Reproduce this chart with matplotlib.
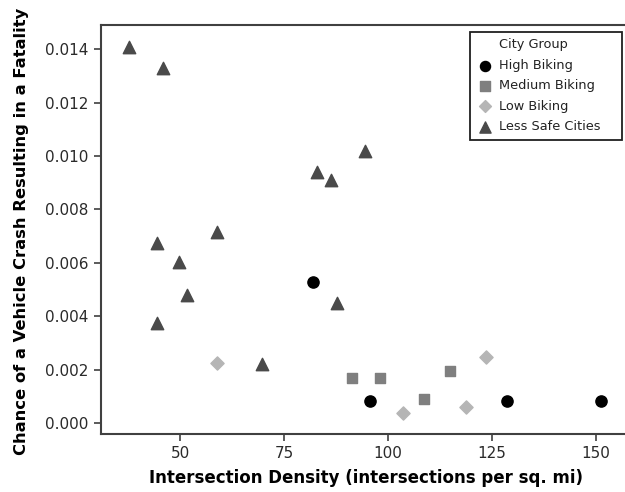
import matplotlib
matplotlib.use("Agg")
import matplotlib.pyplot as plt
from matplotlib.lines import Line2D

# values
high_x = [81.9, 95.7, 128.7, 151.2]
high_y = [0.00528, 0.00084, 0.00084, 0.00084]
medium_x = [91.4, 98.1, 108.6, 114.9]
medium_y = [0.00169, 0.00169, 0.00090, 0.00195]
low_x = [58.8, 103.7, 118.7, 123.5]
low_y = [0.00226, 0.00039, 0.00061, 0.00249]
unsafe_x = [37.7, 45.9, 44.5, 58.8, 49.8, 51.6, 44.5, 69.6, 82.9, 86.2, 94.6, 87.7]
unsafe_y = [0.0141, 0.0133, 0.00675, 0.00717, 0.00603, 0.0048, 0.00376, 0.0022,
            0.00939, 0.0091, 0.0102, 0.00449]

x_ticks = [50, 75, 100, 125, 150]
y_ticks = [0.000, 0.002, 0.004, 0.006, 0.008, 0.010, 0.012, 0.014]

plt.rcParams['font.family'] = ['DejaVu Sans']
fig = plt.figure(figsize=(6.25, 4.92), dpi=100)
ax = fig.add_axes([101 / 625, 1 - 434 / 492, 524 / 625, 409 / 492])

ax.scatter(high_x, high_y, marker='o', s=65, color='black', label='High Biking', zorder=3)
ax.scatter(medium_x, medium_y, marker='s', s=52, color='#7f7f7f', label='Medium Biking', zorder=3)
ax.scatter(low_x, low_y, marker='D', s=45, color='#b5b5b5', label='Low Biking', zorder=3)
ax.scatter(unsafe_x, unsafe_y, marker='^', s=80, color='#4a4a4a', label='Less Safe Cities', zorder=3)

ax.set_xlim(31.0, 157.0)
ax.set_ylim(-0.00041, 0.01491)
ax.set_xticks(x_ticks)
ax.set_yticks(y_ticks)
ax.set_yticklabels(['%.3f' % v for v in y_ticks])
ax.tick_params(labelsize=11, length=5, width=1.2, pad=4, color='#404040', labelcolor='#2a2a2a')

for side in ['left', 'bottom', 'top']:
    ax.spines[side].set_color('#404040')
    ax.spines[side].set_linewidth(1.5)
ax.spines['right'].set_visible(False)

ax.set_xlabel('Intersection Density (intersections per sq. mi)', fontsize=12,
              fontweight='bold')
ax.set_ylabel('Chance of a Vehicle Crash Resulting in a Fatality', fontsize=11.8,
              fontweight='bold')
ax.xaxis.set_label_coords(0.505, -0.086)
ax.yaxis.set_label_coords(-0.137, 0.495)

# the legend title sits in the label column like an entry without a marker
handles, labels = ax.get_legend_handles_labels()
title_handle = Line2D([], [], linestyle='none', marker='none')
leg = ax.legend([title_handle] + handles, ['City Group'] + labels,
                loc='upper left', bbox_to_anchor=(0.704, 0.5, 0.290, 0.483),
                mode='expand', borderaxespad=0,
                fontsize=9.3, fancybox=False, framealpha=1, markerscale=0.9,
                edgecolor='#202020', handletextpad=0.5, borderpad=0.5,
                labelspacing=0.58, handlelength=1.27)
leg.get_frame().set_linewidth(1.3)
for t in leg.get_texts():
    t.set_color('#222222')

fig.savefig('out.png', dpi=100)
